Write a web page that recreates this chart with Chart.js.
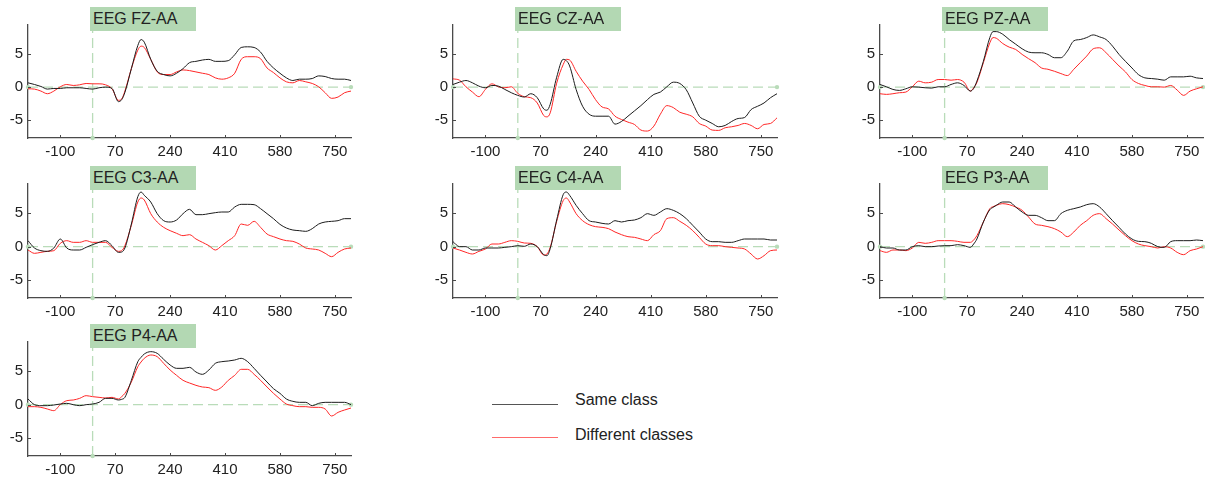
<!DOCTYPE html>
<html>
<head>
<meta charset="utf-8">
<script src="https://cdn.jsdelivr.net/npm/chart.js@4.4.1/dist/chart.umd.min.js"></script>
<style>
  html, body { margin: 0; padding: 0; background: #fff; overflow: hidden; }
  body { width: 1205px; height: 477px; position: relative; font-family: "Liberation Sans", Arial, sans-serif; }
  .panel { position: absolute; }
  .ttl { position: absolute; background: #b3d8b3; color: #222; font-size: 16px; line-height: 24px; height: 24px; width: 106px; padding-left: 3px; box-sizing: border-box; z-index: 5; white-space: nowrap; }
  .lgline { position: absolute; height: 1px; }
  .lgtext { position: absolute; font-size: 16px; color: #222; line-height: 20px; white-space: nowrap; }
</style>
</head>
<body>
<script>
// ---------- data ----------
const times = [-200,-180,-160,-140,-120,-100,-80,-60,-40,-20,0,20,40,60,80,90,100,120,140,150,160,180,200,220,240,260,280,300,320,340,360,380,400,420,440,460,480,500,520,540,560,580,600,620,640,660,680,700,720,740,760,780,800];

const xTickValues = [-100, 70, 240, 410, 580, 750];
const yTickValues = [-5, 0, 5];
const xRange = [-200, 800];
const yRange = [-7.7, 9.4];
const zeroLevel = 0;
const stimulusOnset = 0;

const channelNames = ["EEG FZ-AA", "EEG CZ-AA", "EEG PZ-AA", "EEG C3-AA", "EEG C4-AA", "EEG P3-AA", "EEG P4-AA"];
const legendLabels = ["Same class", "Different classes"];

const fzSame = [0.65,0.4,0.1,-0.3,-0.2,-0.2,-0.1,-0.1,-0.1,-0.2,-0.3,-0.1,0.0,-0.2,-2.2,-1.9,-0.8,2.8,6.3,7.2,6.8,4.2,2.4,1.9,1.7,2.1,2.8,3.7,3.9,4.1,4.2,3.9,3.9,4.0,4.9,6.0,6.1,6.0,5.3,3.9,2.9,2.1,1.4,1.0,1.2,1.2,1.3,1.7,1.6,1.3,1.2,1.2,1.0];
const fzDiff = [-0.25,-0.3,-0.6,-1.0,-0.6,0.05,0.4,0.25,0.35,0.55,0.5,0.5,0.35,-0.25,-2.0,-1.8,-0.6,2.8,5.6,6.2,6.0,4.2,2.3,1.9,1.9,2.3,2.6,2.5,2.3,2.1,1.9,1.4,1.2,1.4,2.1,4.2,4.6,4.6,4.3,2.9,2.2,1.4,0.8,0.65,1.0,0.8,0.55,0.05,-0.85,-1.7,-1.5,-0.85,-0.6];

const czSame = [0.4,0.75,1.0,0.65,0.15,-0.1,0.25,0.15,-0.35,-0.85,-1.25,-1.5,-1.0,-1.6,-3.3,-3.5,-2.6,1.5,4.2,4.0,3.2,-0.35,-2.9,-4.1,-4.4,-4.4,-4.4,-5.6,-5.2,-4.4,-3.6,-2.8,-1.9,-1.1,-0.75,0.05,0.75,0.55,-0.4,-2.4,-4.4,-5.0,-5.5,-6.0,-5.8,-5.2,-4.75,-4.6,-3.4,-2.9,-2.4,-1.6,-1.0];
const czDiff = [1.25,1.05,0.05,-0.75,-1.45,-0.35,0.5,0.05,-0.1,0.05,-0.95,-1.45,-1.6,-2.4,-4.3,-4.5,-3.9,0.6,3.4,4.2,4.1,2.4,0.9,-0.35,-1.9,-3.0,-3.3,-4.4,-4.9,-5.3,-5.65,-6.5,-6.65,-5.9,-4.1,-2.8,-3.1,-3.8,-4.1,-4.5,-5.5,-5.9,-6.5,-6.55,-6.15,-6.0,-5.8,-5.5,-5.8,-6.3,-5.65,-5.5,-4.65];

const pzSame = [0.4,0.05,-0.35,-0.5,-0.25,0.05,0,-0.1,-0.15,0.05,0.05,0.4,0.65,0.25,-0.6,-0.2,0.9,3.9,7.5,8.4,8.4,8.0,7.2,6.5,5.8,5.3,5.2,5.2,4.95,4.45,4.45,5.45,7.0,7.2,7.5,7.9,7.6,7.2,6.2,4.95,3.9,2.9,1.9,1.4,1.3,1.2,1.05,1.55,1.55,1.55,1.65,1.4,1.3];
const pzDiff = [-1.0,-1.1,-1.0,-0.85,-0.75,0.05,0.9,0.65,0.75,1.15,1.15,1.05,1.15,0.75,-0.6,-0.1,0.7,3.7,6.7,7.5,7.4,6.6,6.05,5.7,4.95,4.3,3.7,2.9,2.7,2.4,2.05,1.75,2.7,3.7,4.7,5.8,5.95,5.2,4.2,3.2,2.3,1.15,0.55,0.25,0.05,0.05,0,0.25,-0.45,-1.25,-0.6,-0.25,0.05];

const c3Same = [0.9,-0.2,-0.6,-0.7,-0.2,1.15,-0.2,-0.5,-0.5,-0.1,0.3,0.65,0.9,0.15,-0.85,-0.8,-0.2,3.4,7.5,8.2,7.7,6.7,4.95,3.9,3.7,4.0,4.95,5.6,4.8,4.8,4.95,5.1,5.2,5.2,5.95,6.35,6.35,6.3,5.7,4.95,4.2,3.35,2.8,2.5,2.4,2.3,2.7,3.4,3.7,3.8,3.9,4.2,4.2];
const c3Diff = [-0.5,-1.0,-0.85,-0.7,-0.6,0.5,0.9,0.65,0.65,0.9,0.65,0.65,0.65,-0.1,-0.7,-0.6,0.15,3.2,6.7,7.3,7.0,4.95,3.7,2.9,2.4,2.0,1.65,1.8,1.15,0.65,0.15,-0.5,0.15,0.9,1.65,3.4,3.2,3.8,2.9,1.9,1.5,1.15,0.9,0.8,0.4,-0.2,-0.35,-0.5,-1.0,-1.5,-0.85,-0.35,-0.2];

const c4Same = [0.75,0,0,-0.5,-0.5,-0.2,-0.2,-0.2,-0.1,0,0.15,0.05,0.4,0,-1.2,-1.35,-0.3,4.0,7.8,8.2,7.7,6.2,4.95,3.9,3.7,3.5,3.4,3.9,3.7,3.9,4.0,4.35,4.95,4.7,5.2,5.7,5.45,4.95,4.2,3.2,2.2,1.15,0.75,0.75,0.65,0.65,0.9,1.15,1.15,1.15,1.15,1.0,1.0];
const c4Diff = [-0.2,-0.5,-0.85,-1.1,-0.7,-0.35,0.4,0.4,0.65,0.9,0.8,0.55,0.5,0,-1.25,-1.1,-0.1,3.8,6.9,7.3,6.7,4.95,3.9,3.3,3.0,2.9,2.7,2.2,1.8,1.5,1.4,1.15,0.9,1.8,2.4,4.2,4.35,3.8,3.2,2.4,1.4,0.4,0.15,0.15,0,-0.1,-0.2,-0.35,-1.1,-1.85,-1.35,-0.6,-0.5];

const p3Same = [0,-0.2,-0.2,-0.5,-0.5,0,0.15,0,0,0.1,0.15,0.15,0.3,0.15,-0.1,0.4,1.15,3.7,5.55,5.9,6.2,6.7,6.7,5.95,5.2,4.7,4.7,4.35,3.9,3.9,4.95,5.45,5.7,5.95,6.3,6.45,5.95,4.95,3.9,2.9,1.9,1.15,0.8,0.75,0.5,0,-0.1,0.75,0.9,0.9,0.9,1.0,0.9];
const p3Diff = [-0.6,-0.85,-0.5,-0.5,-0.6,-0.2,0.65,0.5,0.65,0.9,0.9,0.9,0.8,0.65,0.65,1.0,1.65,3.7,5.7,6.0,6.2,6.45,6.3,5.95,5.45,4.45,3.4,3.2,3.0,2.7,2.2,1.5,2.2,3.2,3.9,4.7,4.95,4.2,3.4,2.5,1.65,0.9,0.4,0.15,0,-0.2,0,-0.2,-0.85,-1.2,-0.6,-0.35,0];

const p4Same = [0.85,0,-0.15,-0.15,-0.05,0.1,0.2,0,-0.15,0,0.1,0.35,0.95,0.95,0.7,0.8,1.1,3.65,6.45,7.1,7.6,7.95,7.7,6.8,5.95,5.45,5.45,5.6,4.9,4.55,5.2,6.2,6.45,6.55,6.7,6.95,6.45,5.45,4.4,3.4,2.4,1.7,0.85,0.5,0.35,0.35,-0.15,0.2,0.35,0.35,0.35,0.35,0];
const p4Diff = [-0.3,-0.3,-0.4,-0.65,-0.9,0,0.6,0.7,0.95,1.35,1.2,1.1,1.0,1.1,0.85,1.2,1.7,3.4,5.7,6.4,6.95,7.45,7.2,6.2,5.2,4.4,3.65,3.25,2.9,2.65,2.55,2.15,2.65,3.65,4.4,5.3,5.3,4.55,3.65,2.65,1.7,0.85,0.1,-0.15,-0.3,-0.3,-0.4,-0.4,-0.65,-1.7,-1.15,-0.8,-0.5];

const sameSeries = [fzSame, czSame, pzSame, c3Same, c4Same, p3Same, p4Same];
const diffSeries = [fzDiff, czDiff, pzDiff, c3Diff, c4Diff, p3Diff, p4Diff];

// ---------- layout (chart-area boxes) ----------
const colL = [28, 453, 880];
const colR = [352, 778, 1204];
const rowT = [25, 184, 342];
const rowB = [138, 298, 456];
const YAXW = 30, XAXH = 25, PADT = 5, PADR = 3;

const FONT = '"Liberation Sans", Arial, sans-serif';
const AXIS_COLOR = '#4a4a4a';
const REF_COLOR = '#b9dcb9';

const inwardTicks = {
  id: 'inwardTicks',
  afterDatasetsDraw(chart) {
    const ctx = chart.ctx, a = chart.chartArea;
    const xs = chart.scales.x, ys = chart.scales.y;
    ctx.save();
    ctx.strokeStyle = AXIS_COLOR;
    ctx.lineWidth = 1;
    ctx.beginPath();
    yTickValues.forEach(v => { const py = Math.round(ys.getPixelForValue(v)) + 0.5; ctx.moveTo(a.left, py); ctx.lineTo(a.left + 3, py); });
    xTickValues.forEach(v => { const px = Math.round(xs.getPixelForValue(v)) + 0.5; ctx.moveTo(px, a.bottom); ctx.lineTo(px, a.bottom - 3); });
    ctx.stroke();
    ctx.restore();
  }
};

function pts(arr) { return times.map((t, i) => ({ x: t, y: arr[i] })); }

function makePanel(idx) {
  const col = idx % 3, row = Math.floor(idx / 3);
  const L = colL[col], R = colR[col], T = rowT[row], B = rowB[row];
  const div = document.createElement('div');
  div.className = 'panel';
  const w = (R - L) + YAXW + PADR, h = (B - T) + PADT + XAXH;
  div.style.left = (L - YAXW) + 'px';
  div.style.top = (T - PADT) + 'px';
  div.style.width = w + 'px';
  div.style.height = h + 'px';
  const cv = document.createElement('canvas');
  div.appendChild(cv);
  document.body.appendChild(div);

  new Chart(cv, {
    type: 'line',
    data: {
      datasets: [
        { label: legendLabels[0], data: pts(sameSeries[idx]), borderColor: '#1c1c1c', borderWidth: 1, pointRadius: 0, tension: 0.25, cubicInterpolationMode: 'monotone' },
        { label: legendLabels[1], data: pts(diffSeries[idx]), borderColor: '#ff2626', borderWidth: 1, pointRadius: 0, tension: 0.25, cubicInterpolationMode: 'monotone' },
        { label: 'zero', data: [{ x: xRange[0], y: zeroLevel }, { x: xRange[1], y: zeroLevel }], borderColor: REF_COLOR, backgroundColor: REF_COLOR, borderWidth: 1.3, borderDash: [10, 5], pointRadius: 2.2, pointBorderWidth: 0, clip: 6 },
        { label: 'onset', data: [{ x: stimulusOnset, y: yRange[0] }, { x: stimulusOnset, y: yRange[1] }], borderColor: REF_COLOR, backgroundColor: REF_COLOR, borderWidth: 1.3, borderDash: [10, 5], pointRadius: 2.2, pointBorderWidth: 0, clip: 6 }
      ]
    },
    options: {
      responsive: true,
      maintainAspectRatio: false,
      animation: false,
      events: [],
      layout: { padding: { top: PADT, right: PADR, left: 0, bottom: 0 } },
      plugins: { legend: { display: false }, tooltip: { enabled: false }, title: { display: false } },
      scales: {
        x: {
          type: 'linear', min: xRange[0], max: xRange[1],
          afterBuildTicks: s => { s.ticks = xTickValues.map(v => ({ value: v })); },
          afterFit: s => { s.height = XAXH; s.paddingLeft = 0; s.paddingRight = 0; },
          grid: { display: false, drawTicks: false },
          border: { display: true, color: AXIS_COLOR, width: 1.3 },
          ticks: { color: '#222', font: { family: FONT, size: 15 }, padding: 5, maxRotation: 0, autoSkip: false }
        },
        y: {
          type: 'linear', min: yRange[0], max: yRange[1],
          afterBuildTicks: s => { s.ticks = yTickValues.map(v => ({ value: v })); },
          afterFit: s => { s.width = YAXW; s.paddingTop = 0; s.paddingBottom = 0; },
          grid: { display: false, drawTicks: false },
          border: { display: true, color: AXIS_COLOR, width: 1.3 },
          ticks: { color: '#222', font: { family: FONT, size: 15 }, padding: 5 }
        }
      }
    },
    plugins: [inwardTicks]
  });

  const vlinePx = L + (stimulusOnset - xRange[0]) / (xRange[1] - xRange[0]) * (R - L);
  const t = document.createElement('div');
  t.className = 'ttl';
  t.textContent = channelNames[idx];
  t.style.left = Math.round(vlinePx - 3) + 'px';
  t.style.top = (T - 18) + 'px';
  document.body.appendChild(t);
}

for (let i = 0; i < channelNames.length; i++) makePanel(i);

// ---------- legend ----------
const legendColors = ['#555555', '#ff6a6a'];
const legendLineY = [404, 437];
const legendTextTop = [390, 425];
legendLabels.forEach((lab, i) => {
  const ln = document.createElement('div');
  ln.className = 'lgline';
  ln.style.left = '492px'; ln.style.width = '66px';
  ln.style.top = legendLineY[i] + 'px';
  ln.style.background = legendColors[i];
  document.body.appendChild(ln);
  const tx = document.createElement('div');
  tx.className = 'lgtext';
  tx.textContent = lab;
  tx.style.left = '575px';
  tx.style.top = legendTextTop[i] + 'px';
  document.body.appendChild(tx);
});
</script>
</body>
</html>
